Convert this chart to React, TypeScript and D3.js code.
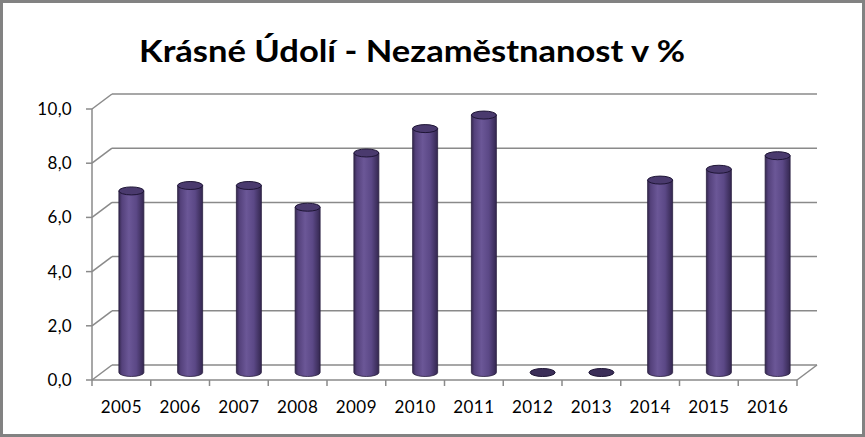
import React from "react";
import * as d3 from "d3";

const categories = ["2005", "2006", "2007", "2008", "2009", "2010", "2011", "2012", "2013", "2014", "2015", "2016"];
const values = [6.7, 6.9, 6.9, 6.1, 8.1, 9.0, 9.5, 0, 0, 7.1, 7.5, 8.0];
const yTicks = [0, 2, 4, 6, 8, 10];
const title = "Krásné Údolí - Nezaměstnanost v %";

const W = 865;
const H = 437;
const DX = 20;
const DY = -15;

export default function App() {
  const x = d3.scaleBand<string>().domain(categories).range([92, 797]).paddingInner(0).paddingOuter(0);
  const y = d3.scaleLinear().domain([0, 10]).range([380, 109]);
  const fmt = (v: number) => d3.format(".1f")(v).replace(".", ",");
  const grid = "#8a8a8a";
  const rx = 12.5;
  const ry = 4;
  const font = "Lato, 'Open Sans', sans-serif";

  return (
    <svg width={W} height={H} style={{ position: "absolute", left: 0, top: 0 }}>
      <defs>
        <linearGradient id="cyl" x1="0" x2="1" y1="0" y2="0">
          <stop offset="0" stopColor="#35284f" />
          <stop offset="0.12" stopColor="#54417b" />
          <stop offset="0.4" stopColor="#6b5797" />
          <stop offset="0.7" stopColor="#5b4886" />
          <stop offset="1" stopColor="#342750" />
        </linearGradient>
      </defs>
      <rect x={1.5} y={1.5} width={W - 3} height={H - 3} fill="#fff" stroke="#828282" strokeWidth={3} />
      <text
        x={412}
        y={62}
        textAnchor="middle"
        fontFamily={font}
        fontWeight="bold"
        fontSize={31}
        textLength={546}
        lengthAdjust="spacingAndGlyphs"
        fill="#000"
      >
        {title}
      </text>
      {/* back wall gridlines and side-wall diagonals */}
      {yTicks.map((t) => (
        <g key={t}>
          <line x1={92 + DX} x2={797 + DX} y1={y(t) + DY} y2={y(t) + DY} stroke={grid} strokeWidth={1.5} />
          <line x1={92} x2={92 + DX} y1={y(t)} y2={y(t) + DY} stroke={grid} strokeWidth={1.5} />
          <line x1={86} x2={92} y1={y(t)} y2={y(t)} stroke={grid} strokeWidth={1.5} />
          <text x={72} y={y(t) + 6} textAnchor="end" fontFamily={font} fontSize={17} letterSpacing={0.3} fill="#000">
            {fmt(t)}
          </text>
        </g>
      ))}
      {/* floor */}
      <line x1={92} x2={797} y1={y(0)} y2={y(0)} stroke={grid} strokeWidth={1.5} />
      <line x1={797} x2={797 + DX} y1={y(0)} y2={y(0) + DY} stroke={grid} strokeWidth={1.5} />
      {/* y axis */}
      <line x1={92} x2={92} y1={y(10)} y2={y(0)} stroke={grid} strokeWidth={1.5} />
      {/* category ticks */}
      {categories.map((c) => (
        <line key={"t" + c} x1={x(c)!} x2={x(c)!} y1={y(0)} y2={y(0) + 6} stroke={grid} strokeWidth={1.5} />
      ))}
      <line x1={797} x2={797} y1={y(0)} y2={y(0) + 6} stroke={grid} strokeWidth={1.5} />
      {/* bars */}
      {categories.map((c, i) => {
        const v = values[i];
        const cx = x(c)! + x.bandwidth() / 2 + DX / 2;
        const yb = y(0) + DY / 2;
        const yt = y(v) + DY / 2;
        if (v === 0) {
          return (
            <ellipse key={c} cx={cx} cy={yb} rx={rx} ry={ry} fill="#3b2e58" stroke="#1e1535" strokeWidth={1} />
          );
        }
        const body = `M${cx - rx},${yt} L${cx - rx},${yb} A${rx},${ry} 0 0 0 ${cx + rx},${yb} L${cx + rx},${yt} Z`;
        return (
          <g key={c}>
            <path d={body} fill="url(#cyl)" stroke="#2a1f40" strokeWidth={0.8} />
            <ellipse cx={cx} cy={yt} rx={rx} ry={ry} fill="#4a3a6e" stroke="#1e1535" strokeWidth={1} />
          </g>
        );
      })}
      {/* category labels */}
      {categories.map((c) => (
        <text
          key={"l" + c}
          x={x(c)! + x.bandwidth() / 2}
          y={413}
          textAnchor="middle"
          fontFamily={font}
          fontSize={17}
          letterSpacing={0.5}
          fill="#000"
        >
          {c}
        </text>
      ))}
    </svg>
  );
}
